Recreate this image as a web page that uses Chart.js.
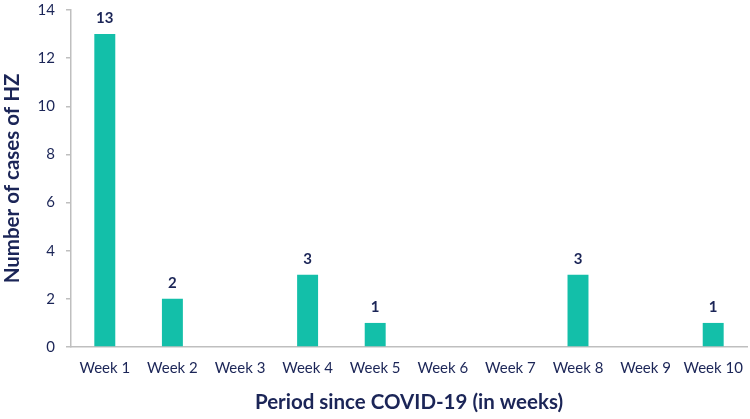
<!DOCTYPE html>
<html>
<head>
<meta charset="utf-8">
<script src="https://cdn.jsdelivr.net/npm/chart.js@4"></script>
<style>
  html, body { margin: 0; padding: 0; background: #fff; }
  #wrap { width: 750px; height: 419px; }
</style>
</head>
<body>
<div id="wrap"><canvas id="myChart"></canvas></div>
<script>
const weeks = ['Week 1', 'Week 2', 'Week 3', 'Week 4', 'Week 5', 'Week 6', 'Week 7', 'Week 8', 'Week 9', 'Week 10'];
const cases = [13, 2, 0, 3, 1, 0, 0, 3, 0, 1];
const yTicks = [0, 2, 4, 6, 8, 10, 12, 14];

const navy = '#1B2557';
const teal = '#13BFA9';
const axisGray = '#BFBFBF';
const fontName = 'Lato, "Open Sans", sans-serif';

// draws the value above each non-zero bar
const barLabels = {
  id: 'barLabels',
  afterDatasetsDraw(chart) {
    const ctx = chart.ctx;
    const meta = chart.getDatasetMeta(0);
    ctx.save();
    ctx.font = 'bold 15px ' + fontName;
    ctx.fillStyle = navy;
    ctx.textAlign = 'center';
    ctx.textBaseline = 'middle';
    meta.data.forEach((bar, i) => {
      const v = cases[i];
      if (v > 0) ctx.fillText(v, bar.x, bar.y - 16);
    });
    ctx.restore();
  }
};

const data = {
  labels: weeks,
  datasets: [{
    label: 'Cases',
    backgroundColor: teal,
    borderWidth: 0,
    data: cases,
    barPercentage: 0.31,
    categoryPercentage: 1
  }]
};

const config = {
  type: 'bar',
  data: data,
  plugins: [barLabels],
  options: {
    responsive: true,
    maintainAspectRatio: false,
    animation: false,
    layout: { padding: { top: 10, right: 3, left: 0, bottom: 4 } },
    plugins: {
      legend: { display: false },
      tooltip: { enabled: false }
    },
    scales: {
      x: {
        afterFit(axis) {
          axis.height = 68;
          axis.paddingLeft = 0;
          axis.paddingRight = 0;
        },
        grid: { display: false },
        border: { display: true, color: axisGray, width: 1.5 },
        ticks: { color: navy, font: { family: fontName, size: 15 }, padding: 4, maxRotation: 0 },
        title: {
          display: true,
          text: 'Period since COVID-19 (in weeks)',
          color: navy,
          font: { family: fontName, size: 20.5, weight: 'bold' },
          padding: { top: 9, bottom: 0 }
        }
      },
      y: {
        min: 0,
        max: 14,
        afterBuildTicks(axis) { axis.ticks = yTicks.map(v => ({ value: v })); },
        afterFit(axis) {
          axis.width = 71;
          axis.paddingTop = 0;
          axis.paddingBottom = 0;
        },
        grid: { drawOnChartArea: false, drawTicks: true, tickLength: 5, color: axisGray, lineWidth: 1.5 },
        border: { display: true, color: axisGray, width: 1.5 },
        ticks: { color: navy, font: { family: fontName, size: 15 }, padding: 11 },
        title: {
          display: true,
          text: 'Number of cases of HZ',
          color: navy,
          font: { family: fontName, size: 20.5, weight: 'bold' },
          padding: { top: 0, bottom: 8 }
        }
      }
    }
  }
};

const myChart = new Chart(document.getElementById('myChart'), config);
</script>
</body>
</html>
